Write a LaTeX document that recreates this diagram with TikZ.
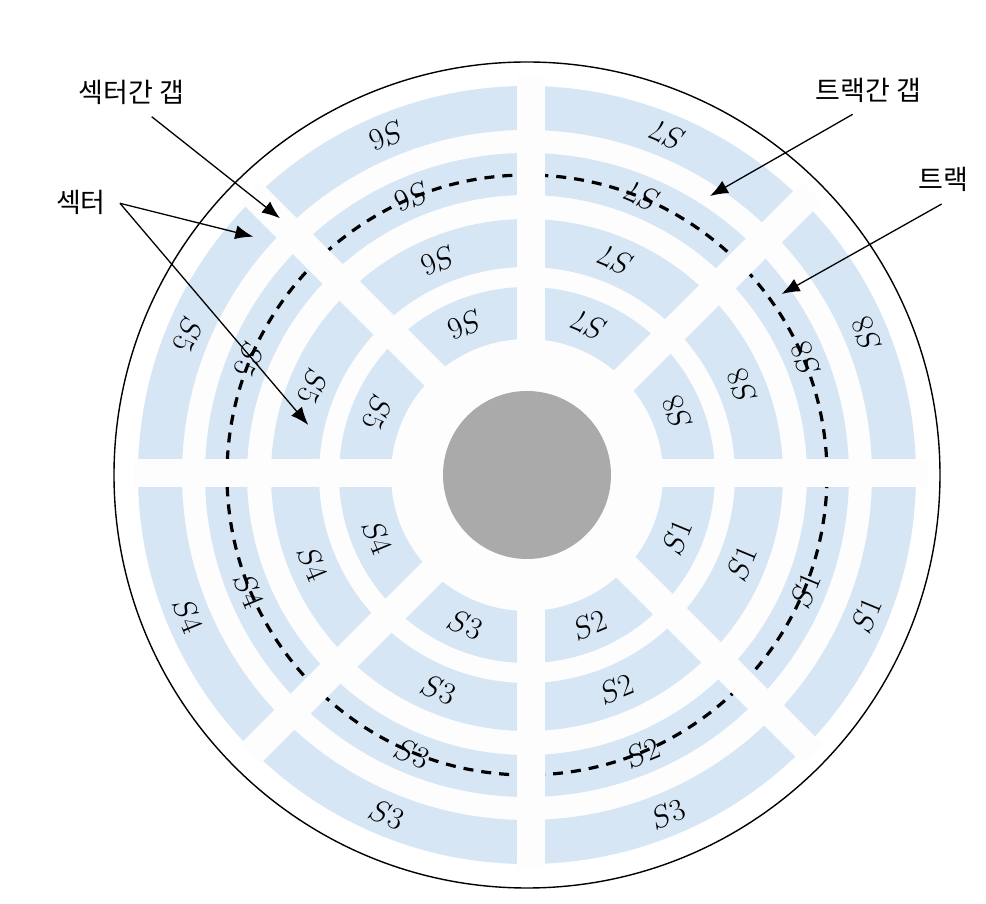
\RequirePackage{fix-cm}
\documentclass[tikz,border=0pt]{standalone}
\usepackage{fontspec}
\newfontfamily\kr{Noto Sans CJK KR}
\usetikzlibrary{arrows.meta}
\definecolor{sec}{RGB}{214,230,245}
\definecolor{gapc}{RGB}{253,253,253}
\definecolor{hubc}{RGB}{170,170,170}
\begin{document}
\begin{tikzpicture}[x=1pt,y=1pt,
  lbl/.style={font=\fontsize{31}{37}\selectfont, inner sep=0pt},
  note/.style={font=\kr\fontsize{27}{32}\selectfont, inner sep=0pt},
  arr/.style={-{Latex[length=18pt,width=14pt]}, line width=1.3pt}]
\useasboundingbox (-527,-429) rectangle (459,475);
% disk background and tracks
\fill[gapc] (0,0) circle (389);
\foreach \ri/\ro in {136/188,208/256,280/322,345/389}
  \fill[sec,even odd rule] (0,0) circle (\ro) (0,0) circle (\ri);
% dashed track
\draw[line width=3.2pt, dash pattern=on 10pt off 8pt] (0,0) circle (300);
% sector gaps
\foreach \a in {0,45,90,135}
  \fill[gapc, shift={(4.5,2.2)}, rotate=\a] (-397,-14) rectangle (397,14);
% hub
\fill[hubc] (0,0) circle (84);
% sector labels
\foreach \a/\t in {22.5/8,67.5/7,112.5/6,157.5/5,202.5/4,247.5/3,292.5/2,337.5/1}
  \foreach \r in {162,232,301}
    \node[lbl, rotate=\a+90] (l\t r\r) at (\a:\r) {$S\t$};
\foreach \a/\t in {22.5/8,67.5/7,112.5/6,157.5/5,202.5/4,247.5/3,292.5/3,337.5/1}
  \node[lbl, rotate=\a+90] (o\t a\a) at (\a:367) {$S\t$};
% outer circle
\draw[line width=1.4pt] (0,0) circle (413);
% annotations
\node[note] (n1) at (-395.5,382.5) {섹터간 갭};
\node[note] (n2) at (-446,272.5) {섹터};
\node[note] (n3) at (341.5,384.5) {트랙간 갭};
\node[note] (n4) at (416.5,295.5) {트랙};
\coordinate (a1s) at (-375.3,358.3); \coordinate (a1e) at (-247,256.7);
\coordinate (a2s) at (-407,271.7);   \coordinate (a2e) at (-273.7,238.3);
\coordinate (a3e) at (-218.7,50);
\coordinate (a4s) at (325.7,360.7);  \coordinate (a4e) at (183,279);
\coordinate (a5s) at (414.7,271);    \coordinate (a5e) at (254.7,181);
\draw[arr] (a1s) -- (a1e);
\draw[arr] (a2s) -- (a2e);
\draw[arr] (a2s) -- (a3e);
\draw[arr] (a4s) -- (a4e);
\draw[arr] (a5s) -- (a5e);
\end{tikzpicture}
\end{document}
